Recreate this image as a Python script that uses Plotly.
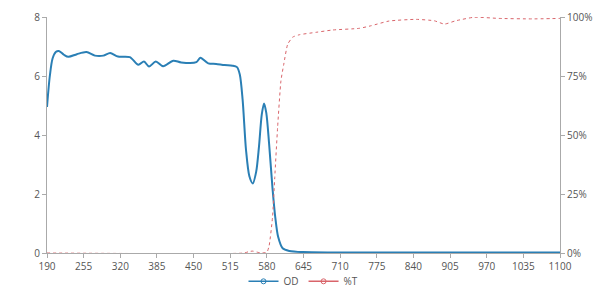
import plotly.graph_objects as go

# OD series
od_wl = [190, 195, 200, 206, 211, 220, 228, 243, 260, 275, 290, 302, 316, 337, 352, 362,
         371, 383, 396, 414, 428, 455, 462, 476, 490, 505, 519, 527, 532, 537, 543, 549,
         555, 561, 566, 571, 575, 579, 584, 590, 595, 600, 608, 620, 644, 700, 800, 900,
         1000, 1100]
od_val = [4.95, 6.0, 6.6, 6.82, 6.85, 6.72, 6.65, 6.74, 6.81, 6.69, 6.69, 6.78, 6.66, 6.64,
          6.38, 6.49, 6.32, 6.49, 6.33, 6.52, 6.46, 6.47, 6.62, 6.43, 6.41, 6.37, 6.35, 6.3,
          6.05, 5.2, 3.5, 2.6, 2.36, 2.75, 3.6, 4.7, 5.07, 4.75, 3.7, 2.2, 1.2, 0.55, 0.16,
          0.07, 0.03, 0.02, 0.02, 0.02, 0.02, 0.02]

# %T series
t_wl = [190, 540, 548, 555, 562, 570, 580, 584, 590, 594, 599, 605, 610, 617, 626, 638,
        667, 697, 744, 765, 797, 845, 877, 895, 915, 948, 992, 1050, 1100]
t_val = [0, 0, 0.6, 0.8, 0.4, 0, 0.3, 3, 15, 32, 53, 73, 80, 88.5, 91.5, 92.5, 93.5, 94.5,
         95.2, 96.3, 98.3, 99, 98.4, 97, 98.4, 99.9, 99.4, 99.2, 99.4]

x_ticks = [190, 255, 320, 385, 450, 515, 580, 645, 710, 775, 840, 905, 970, 1035, 1100]
od_ticks = [0, 2, 4, 6, 8]
t_ticks = [0, 25, 50, 75, 100]
t_labels = ["0%", "25%", "50%", "75%", "100%"]

BLUE = "#2a7fb5"
RED = "#d9646a"

fig = go.Figure()
fig.add_trace(go.Scatter(x=od_wl, y=od_val, mode="lines", name="OD",
                         line=dict(color=BLUE, width=2, shape="spline", smoothing=0.8),
                         showlegend=False, yaxis="y"))
fig.add_trace(go.Scatter(x=t_wl, y=t_val, mode="lines", name="%T",
                         line=dict(color=RED, width=1, dash="3px,3px", shape="spline", smoothing=0.5),
                         showlegend=False, yaxis="y2"))
# legend entries
fig.add_trace(go.Scatter(x=[None], y=[None], mode="lines+markers", name="OD",
                         line=dict(color=BLUE, width=1.5),
                         marker=dict(symbol="circle-open", size=5, color=BLUE)))
fig.add_trace(go.Scatter(x=[None], y=[None], mode="lines+markers", name="%T",
                         line=dict(color=RED, width=1.5),
                         marker=dict(symbol="circle-open", size=5, color=RED), yaxis="y2"))

axis_common = dict(showgrid=False, zeroline=False, showline=True, linecolor="#aaaaaa",
                   linewidth=1, ticks="outside", ticklen=4, tickcolor="#aaaaaa",
                   tickfont=dict(family="Open Sans, sans-serif", size=10, color="#555555"))

fig.update_layout(
    width=600, height=288,
    margin=dict(l=47, r=40, t=17, b=35, autoexpand=False),
    paper_bgcolor="white", plot_bgcolor="white",
    xaxis=dict(range=[190, 1100], tickvals=x_ticks, **axis_common),
    yaxis=dict(range=[0, 8], tickvals=od_ticks, **axis_common),
    yaxis2=dict(range=[0, 100], tickvals=t_ticks, ticktext=t_labels, overlaying="y",
                side="right", **axis_common),
    legend=dict(orientation="h", x=0.5, xanchor="center", y=-0.12, yanchor="middle",
                bgcolor="rgba(0,0,0,0)",
                font=dict(family="Open Sans, sans-serif", size=10, color="#555555"),
                itemwidth=30, tracegroupgap=0),
    showlegend=True,
)

fig.write_html("out.html")
